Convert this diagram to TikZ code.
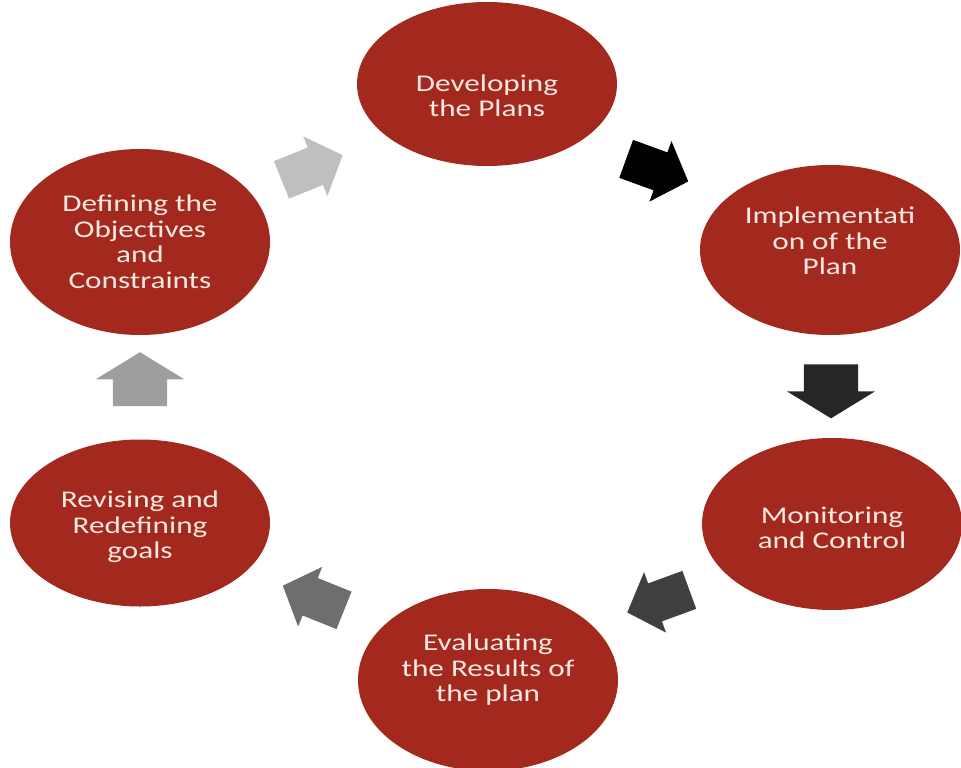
\documentclass[tikz,border=0pt]{standalone}
\usepackage{fontspec}
\setmainfont{Carlito}[FakeStretch=1.3]
\usetikzlibrary{shapes.geometric,shapes.arrows,calc,positioning}
\definecolor{phasered}{HTML}{A3281E}
\definecolor{phasetext}{HTML}{F7E8E2}

\begin{document}
\begin{tikzpicture}[x=1pt, y=-1pt,
  phase/.style={ellipse, fill=phasered, minimum width=260pt, minimum height=#1, inner sep=0pt},
  phasetxt/.style={text=phasetext, inner sep=0pt, align=center, font=\fontsize{24}{25.5}\selectfont},
  turn/.style={single arrow, draw=none, inner xsep=0pt, fill=#1},
  slant/.style={minimum height=66pt, inner ysep=20pt, single arrow head extend=12pt, single arrow tip angle=95},
  upright/.style={minimum height=54pt, inner ysep=27pt, single arrow head extend=17pt, single arrow tip angle=117}
]
  \useasboundingbox (0,0) rectangle (961,768);
  % the six phases
  \node[phase=164pt, label={[phasetxt, yshift=-12pt]center:Developing\\the Plans}] (dev) at (487, 84) {};
  \node[phase=170pt, label={[phasetxt, yshift=9pt]center:Implementati\\on of the\\Plan}] (imp) at (830, 250) {};
  \node[phase=172pt, label={[phasetxt, yshift=-4pt]center:Monitoring\\and Control}] (mon) at (832, 524) {};
  \node[phase=182pt, label={[phasetxt, yshift=10pt]center:Evaluating\\the Results of\\the plan}] (eva) at (488, 680) {};
  \node[phase=167pt, label={[phasetxt, yshift=-4pt]center:Revising and\\Redefining\\goals}] (rev) at (140, 523) {};
  \node[phase=186pt, label={[phasetxt]center:Defining the\\Objectives\\and\\Constraints}] (def) at (140, 242) {};
  % arrows between the phases
  \node[turn=gray!50, slant, rotate=22] (defdev) at ($(def)!0.5!(dev)+(-10,8)$) {};
  \node[turn=black, slant, rotate=-20] (devimp) at ($(dev)!0.5!(imp)+(-10,0)$) {};
  \node[turn=black!85, upright, rotate=-90] (impmon) at ($(imp)!0.5!(mon)+(0,-4)$) {};
  \node[turn=black!75, slant, rotate=200] (moneva) at ($(mon)!0.5!(eva)+(7,-4)$) {};
  \node[turn=black!57, slant, rotate=158] (evarev) at ($(eva)!0.5!(rev)+(8,0)$) {};
  \node[turn=black!38, upright, rotate=90] (revdef) at ($(rev)!0.5!(def)+(0,5)$) {};
\end{tikzpicture}
\end{document}
